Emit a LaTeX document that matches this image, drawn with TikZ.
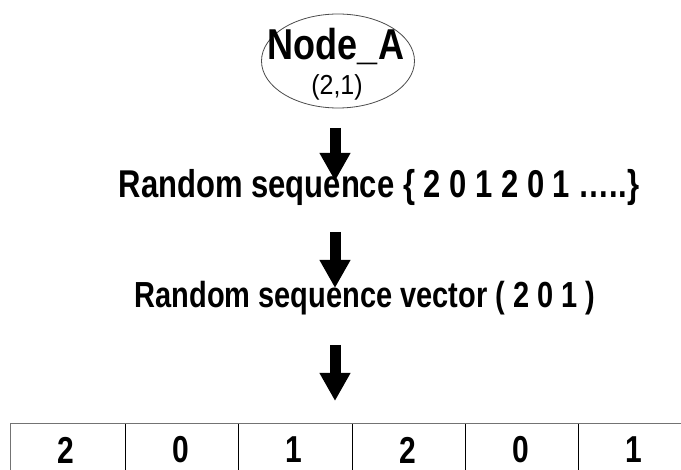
\documentclass[tikz,border=0pt]{standalone}
\usepackage{fontspec}
\setmainfont{Liberation Sans}
\usetikzlibrary{shapes.geometric,arrows.meta}
\newcommand{\tallt}[2][1.25]{\scalebox{1}[#1]{#2}}
\begin{document}
\begin{tikzpicture}[x=1pt,y=-1pt,
  bigtext/.style={inner sep=0pt, anchor=center},
  bigarrow/.style={line width=11pt, -{Triangle[width=29pt,length=28pt]}},
  digit/.style={font=\fontsize{30}{30}\selectfont\bfseries, inner sep=0pt}]
\useasboundingbox (0,0) rectangle (681,470);
\clip (0,0) rectangle (681,470);
\fill[white] (0,0) rectangle (681,470);
% ellipse
\node[ellipse, draw=black!70, line width=0.8pt, minimum width=153pt, minimum height=94pt, inner sep=0pt] (A) at (338,61) {};
\node[font=\fontsize{36}{36}\selectfont\bfseries, inner sep=0pt] (nA) at (336,46) {\tallt[1.2]{Node\_A}};
\node[font=\fontsize{25}{25}\selectfont, inner sep=0pt] (nc) at (337,87) {\tallt[1.1]{(2,1)}};
% lines
\node[bigtext, font=\fontsize{31}{31}\selectfont\bfseries] (L2) at (379,187) {\tallt{Random sequence \{ 2 0 1 2 0 1 …..\}}};
\node[bigtext, font=\fontsize{29}{29}\selectfont\bfseries] (L3) at (365,298) {\tallt{Random sequence vector ( 2 0 1 )}};
% arrows
\coordinate (a1s) at (335,128);
\coordinate (a1e) at (335,181);
\coordinate (a2s) at (335,232);
\coordinate (a2e) at (335,288);
\coordinate (a3s) at (335,345);
\coordinate (a3e) at (335,401);
\draw[bigarrow] (a1s) -- (a1e);
\draw[bigarrow] (a2s) -- (a2e);
\draw[bigarrow] (a3s) -- (a3e);
% table
\draw[draw=black!55, line width=1pt] (10,500) -- (10,424) -- (700,424);
\foreach \i/\x/\d in {1/10/2,2/125/0,3/238/1,4/352/2,5/465/0,6/578/1}{
  \node[digit] (d\i) at ({\x+56},450) {\tallt[1.25]{\d}};
}
\foreach \x in {125,238,352,465,578}{
  \draw[black, line width=1pt] (\x,424) -- (\x,500);
}
\end{tikzpicture}
\end{document}
